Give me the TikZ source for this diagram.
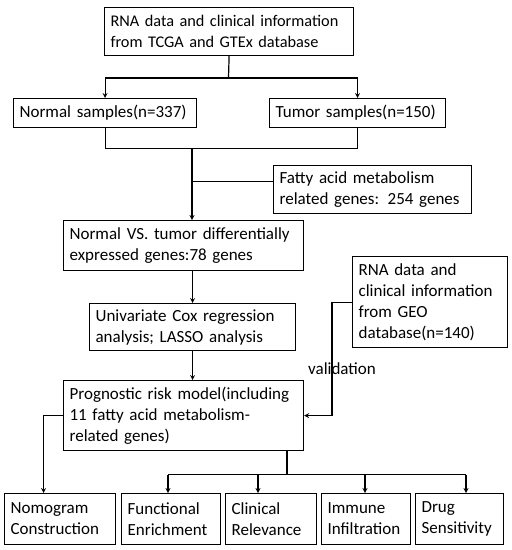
\documentclass[tikz,border=0pt]{standalone}
\usepackage{fontspec}
\setmainfont{Carlito}
\usetikzlibrary{arrows, calc}
\tikzstyle{stage} = [draw=black, line width=1.2pt, inner xsep=6pt, inner ysep=2pt, align=left, anchor=north west, font=\fontsize{17pt}{21pt}\selectfont]
\tikzstyle{arrow} = [line width=1.2pt,->,>=stealth]
\tikzstyle{link} = [line width=1.2pt]

\begin{document}
\begin{tikzpicture}[x=1pt,y=-1pt]
\useasboundingbox (0,0) rectangle (512,550);
% boxes
\node[stage, text width=237pt, minimum height=48pt, font=\fontsize{16.3pt}{21pt}\selectfont] (rna) at (104,7) {RNA data and clinical information\\from TCGA and GTEx database};
\node[stage, text width=171pt, minimum height=29pt] (normal) at (13,98) {Normal samples(n=337)};
\node[stage, text width=164pt, minimum height=29pt] (tumor) at (269,98) {Tumor samples(n=150)};
\node[stage, text width=186pt, minimum height=48pt] (fatty) at (273,165) {Fatty acid metabolism\\related genes: 254 genes};
\node[stage, text width=228pt, minimum height=50pt] (diff) at (63,220) {Normal VS. tumor differentially\\expressed genes:78 genes};
\node[stage, text width=194pt, minimum height=47pt] (cox) at (89,303) {Univariate Cox regression\\analysis; LASSO analysis};
\node[stage, text width=143pt, minimum height=91pt] (geo) at (352,256) {RNA data and\\clinical information\\from GEO\\database(n=140)};
\node[stage, text width=228pt, minimum height=70pt] (prog) at (63,380) {Prognostic risk model(including\\11 fatty acid metabolism-\\related genes)};
\node[stage, text width=99pt, minimum height=51pt] (nomo) at (4,493) {Nomogram\\Construction};
\node[stage, text width=87pt, minimum height=51pt] (func) at (121,493) {Functional\\Enrichment};
\node[stage, text width=79pt, minimum height=51pt] (clin) at (225,493) {Clinical\\Relevance};
\node[stage, text width=77pt, minimum height=51pt] (immu) at (321,493) {Immune\\Infiltration};
\node[stage, text width=76pt, minimum height=51pt] (drug) at (415,493) {Drug\\Sensitivity};
\node[font=\fontsize{17pt}{21pt}\selectfont] (valid) at (342,369) {validation};

% connectors
\coordinate (split) at (228.5,78);
\coordinate (join) at (192,148.5);
\coordinate (fork) at (287,474.5);
\draw[link] (rna.south) -- (split);
\draw[arrow] (split) -| (normal.north);
\draw[arrow] (split) -| (tumor.north);
\draw[link] (normal.south) |- (join);
\draw[link] (tumor.south) |- (join);
\draw[arrow] (join) -- (join |- diff.north);
\draw[link] ([yshift=8pt]fatty.west) -- ([yshift=8pt]fatty.west -| join);
\draw[arrow] (diff.south -| cox.north) -- (cox.north);
\draw[arrow] (cox.south) -- (cox.south |- prog.north);
\draw[arrow] (geo.west) -- ++(-20,0) |- (prog.east);
\draw[arrow] (prog.west) -| ([xshift=-16.5pt]nomo.north);
\draw[link] (prog.south -| fork) -- (fork);
\draw[link] (168,474.5) -- (466,474.5);
\foreach \x/\n in {168/func, 258/clin, 365/immu, 466/drug}
  \draw[arrow] (\x,474.5) -- (\n.north -| \x,474.5);
\end{tikzpicture}
\end{document}
